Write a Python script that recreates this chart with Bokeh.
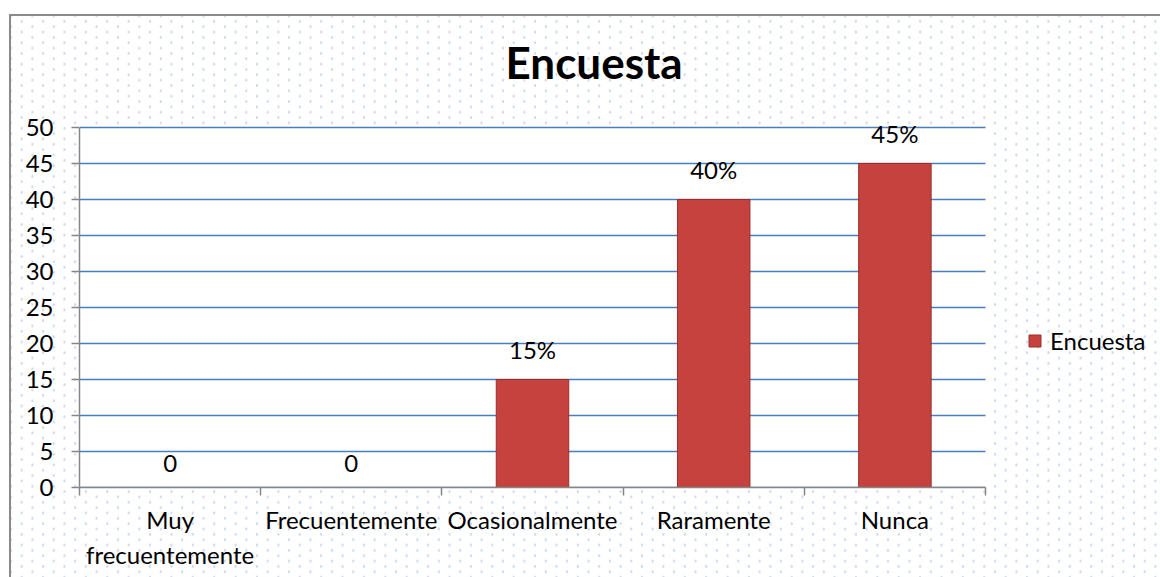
from bokeh.plotting import figure
from bokeh.models import Range1d, FixedTicker, ColumnDataSource, Legend, LegendItem, BoxAnnotation
from bokeh.core.properties import value
from bokeh.embed import file_html
from bokeh.resources import INLINE

categories = ["Muy\nfrecuentemente", "Frecuentemente", "Ocasionalmente", "Raramente", "Nunca"]
values = [0, 0, 15, 40, 45]
labels = ["0", "0", "15%", "40%", "45%"]
series_name = "Encuesta"
y_ticks = [0, 5, 10, 15, 20, 25, 30, 35, 40, 45, 50]

FONT = "Lato"
W, H = 1160, 577

# layout (pixels)
LEFT, TOP, BOTTOM = 79, 100, 90
PLOT_W = 906          # width of the category area
PX_PER_UNIT = 7.2     # vertical scale
n = len(categories)
y_max = y_ticks[-1]
frame_w = W - LEFT
frame_h = H - TOP - BOTTOM
x_end = n * frame_w / PLOT_W
y_end = frame_h / PX_PER_UNIT

xs = [i + 0.5 for i in range(n)]
src = ColumnDataSource(dict(x=xs, top=values, lab=labels))
grid_src = ColumnDataSource(dict(x0=[0] * len(y_ticks), x1=[n] * len(y_ticks), y=y_ticks))

bg_layers = [
    "linear-gradient(#ffffff, #ffffff) 0 0 / 9px 100% no-repeat",
    "linear-gradient(#ffffff, #ffffff) 0 0 / 100% 14px no-repeat",
    "linear-gradient(#8a8a8a, #8a8a8a) 9px 14px / 2px 100% no-repeat",
    "linear-gradient(#8a8a8a, #8a8a8a) 9px 14px / 100% 2px no-repeat",
    "radial-gradient(circle, #c9d5ec 0.9px, rgba(255,255,255,0) 1.5px) 11px 16px / 21.4px 10.7px repeat",
    "radial-gradient(circle, #c9d5ec 0.9px, rgba(255,255,255,0) 1.5px) 21.7px 21.35px / 21.4px 10.7px repeat",
    "#ffffff",
]

p = figure(width=W, height=H, output_backend="svg", toolbar_location=None,
           x_range=Range1d(0, x_end), y_range=Range1d(0, y_end),
           min_border_left=LEFT, min_border_right=0, min_border_top=TOP, min_border_bottom=BOTTOM,
           styles={"background": ", ".join(bg_layers)})

p.background_fill_alpha = 0
p.border_fill_alpha = 0
p.outline_line_color = None
p.xgrid.grid_line_color = None
p.ygrid.grid_line_color = None

# white plot area
p.add_layout(BoxAnnotation(left=0, right=n, bottom=0, top=y_max, fill_color="white",
                           fill_alpha=1, line_color=None, level="image"))

# horizontal gridlines across the category area
p.segment(x0="x0", x1="x1", y0="y", y1="y", source=grid_src, line_color="#4a7ebb", line_width=1.6)

bars = p.vbar(x="x", top="top", width=0.4, source=src, fill_color="#c5423e", line_color="#9a2e2b",
              line_width=1)

p.text(x="x", y="top", text="lab", source=src, text_align="center", text_baseline="bottom",
       y_offset=-16, text_font=value(FONT), text_font_size="24px", text_color="black")

# axes
p.yaxis.ticker = FixedTicker(ticks=y_ticks)
p.yaxis.bounds = (0, y_max)
p.yaxis.axis_line_color = "#868686"
p.yaxis.axis_line_width = 1.5
p.yaxis.major_tick_line_color = "#868686"
p.yaxis.major_tick_line_width = 1.5
p.yaxis.major_tick_out = 8
p.yaxis.major_tick_in = 0
p.yaxis.minor_tick_line_color = None
p.yaxis.major_label_text_font = FONT
p.yaxis.major_label_text_font_size = "24px"
p.yaxis.major_label_text_color = "black"
p.yaxis.major_label_standoff = 18

p.xaxis.ticker = FixedTicker(ticks=xs, minor_ticks=list(range(n + 1)))
p.xaxis.bounds = (0, n)
p.xaxis.major_label_overrides = {x: c for x, c in zip(xs, categories)}
p.xaxis.axis_line_color = "#868686"
p.xaxis.axis_line_width = 1.5
p.xaxis.major_tick_out = 0
p.xaxis.major_tick_in = 0
p.xaxis.major_tick_line_color = None
p.xaxis.minor_tick_line_color = "#868686"
p.xaxis.minor_tick_out = 8
p.xaxis.minor_tick_in = 0
p.xaxis.minor_tick_line_width = 1.5
p.xaxis.major_label_text_font = FONT
p.xaxis.major_label_text_font_size = "24px"
p.xaxis.major_label_text_color = "black"
p.xaxis.major_label_text_line_height = 1.22
p.xaxis.major_label_standoff = 9

p.title.text = "Encuesta"
p.title.text_font = FONT
p.title.text_font_style = "bold"
p.title.text_font_size = "44px"
p.title.text_color = "black"
p.title.align = "left"
p.title.offset = 426
p.title.standoff = 26

legend = Legend(items=[LegendItem(label=series_name, renderers=[bars])], location=(948, 132))
legend.background_fill_alpha = 0
legend.border_line_color = None
legend.padding = 0
legend.margin = 0
legend.glyph_width = 15
legend.glyph_height = 15
legend.label_standoff = 8
legend.label_text_font = FONT
legend.label_text_font_size = "24px"
legend.label_text_color = "black"
p.add_layout(legend)

open("out.html", "w").write(file_html(p, INLINE))
